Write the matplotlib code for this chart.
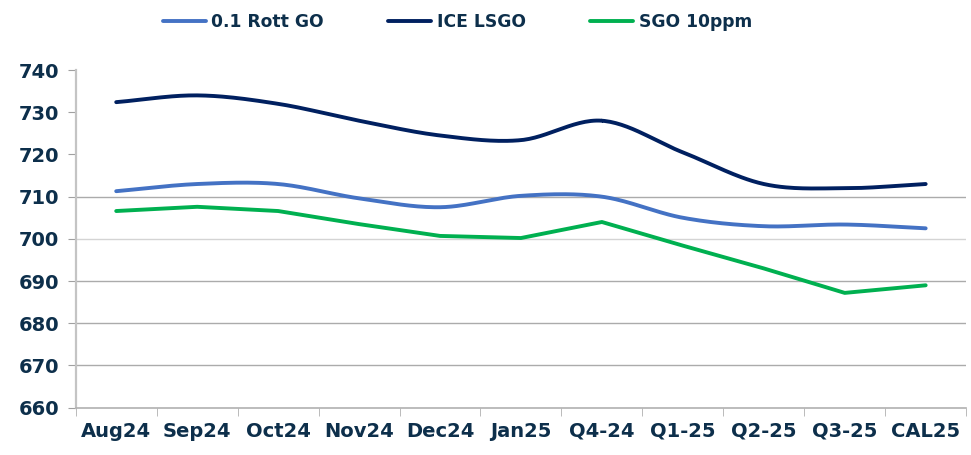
import numpy as np
import matplotlib
matplotlib.use("Agg")
import matplotlib.pyplot as plt

categories = ["Aug24", "Sep24", "Oct24", "Nov24", "Dec24", "Jan25", "Q4-24", "Q1-25", "Q2-25", "Q3-25", "CAL25"]
rott_go = [711.3, 713.0, 713.0, 709.6, 707.5, 710.2, 710.0, 705.0, 703.0, 703.4, 702.5]
ice_lsgo = [732.4, 734.0, 732.0, 728.0, 724.5, 723.4, 728.0, 720.5, 713.0, 712.0, 713.0]
sgo_10ppm = [706.6, 707.6, 706.6, 703.5, 700.7, 700.2, 704.0, 698.4, 693.0, 687.2, 689.0]
y_ticks = [660, 670, 680, 690, 700, 710, 720, 730, 740]
grid_levels = [670, 680, 690, 700, 710]

TEXT = "#0d2f4b"


def smooth(x, y, n=30):
    # Catmull-Rom style smoothing similar to spreadsheet "smoothed line"
    x = np.asarray(x, float)
    y = np.asarray(y, float)
    px = np.concatenate([[2 * x[0] - x[1]], x, [2 * x[-1] - x[-2]]])
    py = np.concatenate([[2 * y[0] - y[1]], y, [2 * y[-1] - y[-2]]])
    xs, ys = [], []
    t = np.linspace(0, 1, n)
    for i in range(1, len(px) - 2):
        p0, p1, p2, p3 = py[i - 1], py[i], py[i + 1], py[i + 2]
        q0, q1, q2, q3 = px[i - 1], px[i], px[i + 1], px[i + 2]
        ys.append(0.5 * ((2 * p1) + (-p0 + p2) * t + (2 * p0 - 5 * p1 + 4 * p2 - p3) * t**2 + (-p0 + 3 * p1 - 3 * p2 + p3) * t**3))
        xs.append(0.5 * ((2 * q1) + (-q0 + q2) * t + (2 * q0 - 5 * q1 + 4 * q2 - q3) * t**2 + (-q0 + 3 * q1 - 3 * q2 + q3) * t**3))
    return np.concatenate(xs), np.concatenate(ys)


fig = plt.figure(figsize=(9.71, 4.55), dpi=100)
ax = fig.add_axes([0.078, 0.104, 0.917, 0.742])

for g in grid_levels:
    ax.axhline(g, color="#d4d4d4" if g == 700 else "#ababab", lw=1, zorder=0)

x = np.arange(len(categories))
sx, sy = smooth(x, rott_go)
ax.plot(sx, sy, color="#4472C4", lw=2.8, label="0.1 Rott GO", solid_capstyle="round")
sx, sy = smooth(x, ice_lsgo)
ax.plot(sx, sy, color="#002060", lw=2.8, label="ICE LSGO", solid_capstyle="round")
ax.plot(x, sgo_10ppm, color="#00B050", lw=2.8, label="SGO 10ppm", solid_capstyle="round")

ax.set_xlim(-0.5, len(categories) - 0.5)
ax.set_ylim(660, 740)
ax.set_yticks(y_ticks)
ax.set_yticklabels([str(v) for v in y_ticks], fontsize=14, fontweight="bold", color=TEXT)
ax.set_xticks(x)
ax.set_xticklabels(categories, fontsize=14, fontweight="bold", color=TEXT)
ax.tick_params(axis="x", length=0, pad=10)
ax.set_xticks(np.arange(-0.5, len(categories), 1), minor=True)
ax.tick_params(axis="x", which="minor", length=6, color="#b0b0b0", direction="out")
ax.tick_params(axis="y", length=6, color="#a0a0a0", pad=6)

for s in ["top", "right"]:
    ax.spines[s].set_visible(False)
ax.spines["left"].set_color("#c4c4c4")
ax.spines["left"].set_linewidth(1.6)
ax.spines["bottom"].set_color("#b0b0b0")
ax.spines["bottom"].set_linewidth(1.2)

leg = fig.legend(loc="center", bbox_to_anchor=(0.471, 0.951), ncol=3, frameon=False,
                 prop={"weight": "bold", "size": 12.3}, handlelength=2.5, handletextpad=0.35,
                 columnspacing=3.75, borderpad=0)
for t in leg.get_texts():
    t.set_color(TEXT)

fig.savefig("out.png", dpi=100)
